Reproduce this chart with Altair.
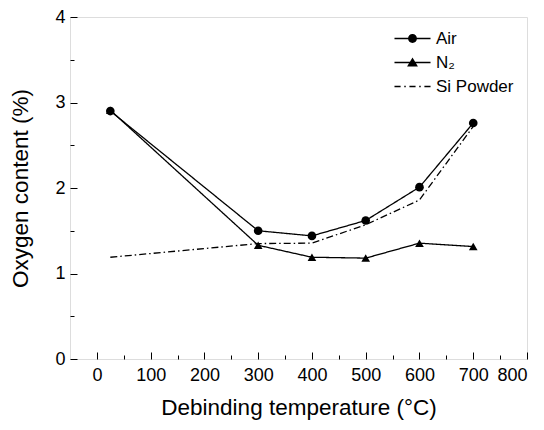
import altair as alt
import pandas as pd

# ---- data ----
temps = [25, 300, 400, 500, 600, 700]
air = [2.90, 1.50, 1.44, 1.62, 2.01, 2.76]
n2 = [2.91, 1.33, 1.19, 1.18, 1.355, 1.315]
si_powder = [1.19, 1.35, 1.355, 1.57, 1.86, 2.72]
series_names = ["Air", "N₂", "Si Powder"]

x_major = [0, 100, 200, 300, 400, 500, 600, 700, 800]
x_minor = [50, 150, 250, 350, 450, 550, 650, 750]
y_major = [0, 1, 2, 3, 4]
y_minor = [0.5, 1.5, 2.5, 3.5]

rows = []
for name, vals in zip(series_names, [air, n2, si_powder]):
    for t, v in zip(temps, vals):
        rows.append({"series": name, "temp": t, "oxygen": v})
df = pd.DataFrame(rows)

FONT = "Liberation Sans"
xscale = alt.Scale(domain=[-50, 800], nice=False, zero=False)
yscale = alt.Scale(domain=[0, 4], nice=False, zero=False)

ax_common = dict(domain=False, grid=False, labelFont=FONT, titleFont=FONT,
                 labelFontSize=18, titleFontSize=22.5, labelColor="black",
                 titleColor="black", tickColor="black", tickWidth=1,
                 titleFontWeight="normal")

x_major_axis = alt.Axis(orient="bottom", values=x_major, offset=-7, tickSize=7,
                        labelPadding=7, title="Debinding temperature (°C)",
                        titlePadding=12, **ax_common)
y_major_axis = alt.Axis(orient="left", values=y_major, offset=-7, tickSize=7,
                        labelPadding=5, title="Oxygen content (%)",
                        titlePadding=22, **ax_common)
x_minor_axis = alt.Axis(orient="bottom", values=x_minor, offset=-4, tickSize=4,
                        labels=False, title=None, domain=False, grid=False,
                        tickColor="black", tickWidth=1)
y_minor_axis = alt.Axis(orient="left", values=y_minor, offset=-4, tickSize=4,
                        labels=False, title=None, domain=False, grid=False,
                        tickColor="black", tickWidth=1)

base = alt.Chart(df)

lines = base.mark_line(color="black", strokeWidth=1.3).encode(
    x=alt.X("temp:Q", scale=xscale, axis=x_major_axis),
    y=alt.Y("oxygen:Q", scale=yscale, axis=y_major_axis),
    strokeDash=alt.StrokeDash(
        "series:N",
        scale=alt.Scale(domain=series_names, range=[[1, 0], [1, 0], [7, 3, 1.5, 3]]),
        legend=None,
    ),
    detail="series:N",
)

points = base.transform_filter(
    alt.datum.series != "Si Powder"
).mark_point(filled=True, color="black", size=75, opacity=1).encode(
    x=alt.X("temp:Q", scale=xscale, axis=x_minor_axis),
    y=alt.Y("oxygen:Q", scale=yscale, axis=y_minor_axis),
    shape=alt.Shape(
        "series:N",
        scale=alt.Scale(domain=series_names, range=["circle", "triangle-up", "circle"]),
        legend=None,
    ),
)

# legend glyphs (filled sub-paths: line segments drawn as thin bars + marker)
def bar(x0, x1, h=0.075):
    return f"M{x0},{-h}L{x1},{-h}L{x1},{h}L{x0},{h}Z"

leg_air = (bar(-2.06, -0.45) + bar(0.45, 2.06)
           + "M0.51,0A0.51,0.51,0,1,1,-0.51,0A0.51,0.51,0,1,1,0.51,0Z")
leg_n2 = bar(-2.06, -0.3) + bar(0.3, 2.06) + "M0,-0.58L0.62,0.46L-0.62,0.46Z"
leg_si = (bar(-2.06, -1.36) + bar(-0.94, -0.77) + bar(-0.35, 0.35)
          + bar(0.77, 0.94) + bar(1.36, 2.06))

legend_layer = base.transform_filter("false").mark_point(
    filled=True, fill="black", size=306, opacity=1
).encode(
    x=alt.X("temp:Q", scale=xscale, axis=None),
    y=alt.Y("oxygen:Q", scale=yscale, axis=None),
    shape=alt.Shape(
        "series:N",
        scale=alt.Scale(domain=series_names, range=[leg_air, leg_n2, leg_si]),
        legend=alt.Legend(
            title=None, orient="none", legendX=333, legendY=12,
            labelFont=FONT, labelFontSize=17, labelColor="black",
            symbolSize=306, labelOffset=14, rowPadding=6, padding=0,
            symbolFillColor="black", symbolOpacity=1,
        ),
    ),
)

chart = alt.layer(lines, points, legend_layer).resolve_axis(
    x="independent", y="independent"
).resolve_scale(shape="independent").properties(
    width=457, height=342,
    autosize=alt.AutoSizeParams(type="none"),
    padding={"left": 62, "top": 9, "right": 9, "bottom": 63},
).configure_view(stroke="black", strokeWidth=1.2).configure(background="white")

chart.save("out.html", embed_options={"renderer": "svg", "actions": False})
